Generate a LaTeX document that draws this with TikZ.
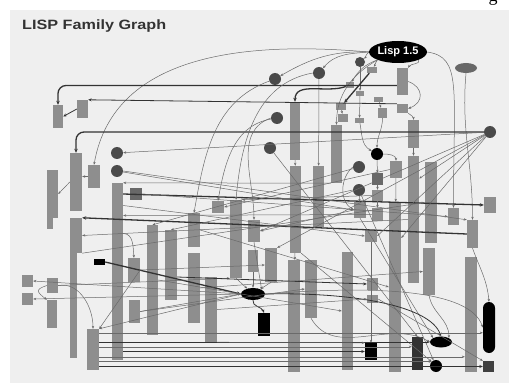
\documentclass[tikz,border=0pt]{standalone}
\usepackage{fontspec}
\setmainfont{Liberation Sans}
\newfontfamily\serifont{Liberation Serif}
\usetikzlibrary{arrows.meta,shapes.geometric,fit,calc}
\definecolor{bgc}{HTML}{EFEFEF}
\definecolor{boxg}{HTML}{8E8E8E}
\definecolor{boxd}{HTML}{686868}
\definecolor{circg}{HTML}{4A4A4A}
\definecolor{lthin}{HTML}{6A6A6A}
\definecolor{ldark}{HTML}{333333}
\definecolor{titlec}{HTML}{333333}
\newcommand\Rb[5]{\node[gb,fit={(#2,#3) (#4,#5)}] (#1) {};}
\newcommand\Rd[5]{\node[gd,fit={(#2,#3) (#4,#5)}] (#1) {};}
\newcommand\Cc[3]{\node[dc] (#1) at (#2,#3) {};}
\begin{document}
\begin{tikzpicture}[x=1pt,y=-1pt,
  gb/.style={fill=boxg,draw=none,inner sep=0pt},
  gd/.style={fill=boxd,draw=none,inner sep=0pt},
  dc/.style={circle,fill=circg,draw=none,inner sep=0pt,minimum size=12pt},
  bk/.style={fill=black,draw=none,inner sep=0pt},
  e/.style={draw=lthin,line width=0.5pt,-{Stealth[length=3pt,width=2.4pt]}},
  em/.style={draw=ldark,line width=0.8pt,-{Stealth[length=3.5pt,width=3pt]}},
  et/.style={draw=ldark,line width=1.3pt,-{Stealth[length=4pt,width=3.5pt]}}]
\useasboundingbox (0,0) rectangle (509,385);
\fill[white] (0,0) rectangle (509,385);
\fill[bgc] (10,10) rectangle (509,383);
\node[anchor=base,font=\serifont\fontsize{18}{18}\selectfont] (frag) at (493,2) {g};
\node[anchor=west,inner sep=0pt,text=titlec,font=\bfseries\fontsize{13.5}{14}\selectfont] (title) at (22,26) {\scalebox{1.2}[1]{LISP Family Graph}};
% ---- gray boxes
\Rb{r1}{53}{105}{63}{128}
\Rb{r2}{77}{100}{88}{118}
\Rb{r3}{70}{153}{82}{211}
\Rb{r4}{88}{165}{100}{188}
\Rb{r5}{47}{170}{58}{218}
\Rb{r5b}{47}{217}{53}{229}
\Rb{r6}{70}{218}{82}{253}
\Rb{r6b}{70}{252}{77}{358}
\Rb{r7}{112}{183}{123}{360}
\Rd{r8}{130}{188}{142}{200}
\Rb{r9}{147}{225}{158}{335}
\Rb{r10}{165}{230}{177}{300}
\Rb{r11}{188}{213}{200}{247}
\Rb{r11b}{188}{253}{200}{323}
\Rb{r12}{212}{201}{224}{213}
\Rb{r13}{230}{200}{242}{278}
\Rb{r14}{248}{220}{260}{242}
\Rb{r16}{248}{250}{258}{272}
\Rb{r15}{265}{248}{277}{282}
\Rb{r17}{290}{102}{300}{160}
\Rb{r17b}{290}{166}{301}{253}
\Rb{r17c}{288}{260}{300}{372}
\Rb{r18}{313}{166}{324}{227}
\Rb{r18b}{305}{260}{317}{318}
\Rb{r19}{331}{125}{342}{183}
\Rb{r20}{342}{252}{353}{370}
\Rb{r21}{354}{202}{366}{218}
\Rb{r22}{372}{190}{383}{201}
\Rb{r23}{372}{208}{383}{221}
\Rd{r24}{372}{173}{383}{185}
\Rb{r25}{365}{230}{377}{242}
\Rb{r26}{367}{278}{378}{290}
\Rb{r27}{367}{295}{378}{303}
\Rb{r28}{390}{161}{402}{178}
\Rb{r29}{389}{202}{401}{372}
\Rb{r30}{408}{120}{419}{148}
\Rb{r31}{408}{156}{419}{283}
\Rb{r32}{425}{162}{437}{243}
\Rb{r32b}{423}{248}{435}{295}
\Rb{r33}{448}{208}{459}{225}
\Rb{r34}{467}{220}{478}{248}
\Rb{r35}{484}{197}{496}{213}
\Rb{r36}{465}{257}{477}{372}
\Rb{r37}{397}{68}{408}{95}
\Rb{r38}{397}{104}{408}{113}
\Rb{r39}{378}{108}{387}{118}
\Rb{s1}{346}{82}{354}{88}
\Rb{s2}{367}{67}{377}{73}
\Rb{s3}{356}{91}{364}{96}
\Rb{s4}{374}{97}{383}{102}
\Rb{s5}{355}{118}{364}{123}
\Rb{s6}{336}{103}{346}{110}
\Rb{s7}{338}{114}{348}{122}
\Rb{r41}{22}{275}{33}{287}
\Rb{r42}{22}{293}{33}{305}
\Rb{r43}{47}{278}{58}{293}
\Rb{r44}{47}{300}{57}{328}
\Rb{r45}{87}{329}{99}{370}
\Rb{r46}{128}{258}{140}{282}
\Rb{r47}{129}{300}{140}{323}
\Rb{r48}{205}{277}{217}{342}
% ---- circles
\Cc{c1}{275}{79}
\Cc{c2}{319}{73}
\node[dc,minimum size=10pt] (c3) at (360,62) {};
\Cc{c4}{277}{118}
\Cc{c5}{490}{132}
\Cc{c6}{117}{153}
\Cc{c7}{117}{171}
\Cc{c8}{270}{148}
\node[dc,fill=black] (c9) at (377,154) {};
\Cc{c10}{359}{167}
\Cc{c11}{359}{190}
% ---- black shapes
\node[ellipse,fill=black,text=white,inner sep=0pt,minimum width=48pt,minimum height=22pt,font=\bfseries\fontsize{11}{11}\selectfont] (L) at (398,52) {Lisp 1.5};
\node[ellipse,fill=boxd,inner sep=0pt,minimum width=22pt,minimum height=10pt] (E2) at (466,68) {};
\node[bk,fit={(94,259) (105,265)}] (b1) {};
\node[ellipse,fill=black,inner sep=0pt,minimum width=24pt,minimum height=12pt] (b2) at (253,294) {};
\node[bk,fit={(258,313) (270,336)}] (b3) {};
\node[bk,fit={(365,343) (377,360)}] (b4) {};
\node[bk,fill=black!80,fit={(412,337) (423,370)}] (b5) {};
\node[ellipse,fill=black,inner sep=0pt,minimum width=22pt,minimum height=11pt] (b6) at (441,342) {};
\node[circle,fill=black,inner sep=0pt,minimum size=12pt] (b7) at (436,366) {};
\node[bk,rounded corners=6pt,fit={(483,302) (495,353)}] (b8) {};
\node[bk,fill=black!75,fit={(483,361) (494,372)}] (b9) {};
% ---- connectors: top
\draw[e] (L.west) to[out=175,in=80] (r4.north);
\draw[e] (L.west) to[out=178,in=30] (c1);
\draw[e] (L.west) to[out=185,in=50] (c2);
\draw[e] (L.west) to[out=200,in=40] (c3);
\draw[e] (L.south west) to[out=200,in=60] (s1);
\draw[e] (L.south west) to[out=230,in=60] (s2);
\draw[e] (L.south west) to[out=210,in=90] (r19.north);
\draw[e] (L.south east) to[out=-60,in=60] (r37.north east);
\draw[e] (L.east) .. controls +(35,5) and +(0,-120) .. (r33.north);
\draw[e] (E2.south) to[out=-95,in=90] (r34.north);
\draw[e] (r34.south) to[out=-70,in=95] (b8.north);
\draw[e] (c2) -- (r18);
\draw[e] (c3) -- (s3);
\draw[e] (s3) -- (s5);
\draw[e] (s5) to[out=-80,in=150] (c9);
\draw[et] (s2) -- (s6);
\draw[e] (s6) -- (s7);
\draw[e] (s4) -- (r39);
\draw[et,rounded corners=8pt] ([yshift=-4pt]r37.west) -| (r1.north);
\draw[em] (r38.north west) -- (r2.north east);
\draw[et] (s1) to[out=200,in=90] (r17.north);
\draw[e] (r37.east) to[out=-20,in=20,looseness=1.6] (r38.east);
\draw[e] (r38.south east) to[out=-40,in=90] (r30.north);
\draw[e] (r39.south) to[out=-90,in=90] (c9.north);
\draw[e] (r30) -- (r31);
\draw[e] (r17) -- (r17b);
\draw[e] (r17b) -- (r17c);
% ---- left and middle
\draw[em] (r2.west) -- (r1.east);
\draw[e] (r4.west) -- (r3.east |- r4.west);
\draw[e] (r3.west) -- (r5.east);
\draw[et,rounded corners=8pt] (c5.west) -| (r3.north);
\draw[e] (c5) -- (c6);
\draw[e] (r19.south west) -- (r7.north east);
\draw[et] (r8.west -| r7.east) -- (r35.west);
\draw[e] (r8.east) -- (r33.west);
\draw[et] (r34.west) -- (r6.north east);
\draw[e] (c7) -- (r21.west);
\draw[e] (c1) to[out=200,in=80] (r11.north);
\draw[e] (c2.west) to[out=190,in=85] (r13.north);
\draw[e] (c4) to[out=190,in=80] (r12.north);
\draw[e] (c4.west) to[out=200,in=90] (r14.north);
\draw[e] (c8) -- (b5.north);
\draw[e] (c11) -- (b7);
\coordinate (m0) at ($(r7.east)+(0,-38)$);
\draw[e] (m0) to[out=0,in=95] (r46.north);
\coordinate (m1) at ($(r7.east)+(0,-66)$);
\draw[e] (m1) -- (r25.west);
\coordinate (m2) at ($(r7.east)+(0,-56)$);
\draw[e] (r23.west) -- (m2);
\draw[e] (r31.west) -- (r6.east);
\draw[e] (c10) -- (r9.north);
\draw[e] (c11.west) -- (r10.north);
\draw[e] (r28.west) -- (r12.east);
\draw[e] (r22.west) -- (r13.north east);
\draw[e] (r21.west) -- (r14.east);
\coordinate (m3) at ($(r31.east)+(0,-41)$);
\draw[e] (c5) -- (m3);
\coordinate (m4) at ($(r29.east)+(0,-49)$);
\draw[e] (c5) -- (m4);
\draw[e] (c5) -- (r25.east);
\draw[e] (c5) -- (r14.east);
\draw[e] (c5) -- (r15.north east);
\draw[e] (c9) -- (r24);
\draw[e] (r24) -- (r22);
\draw[e] (r22) -- (r23);
\draw[e] (c9.east) to[out=0,in=90] (r28.north);
\draw[e] (r28) -- (r29);
\draw[e] (c10.west) to[out=220,in=150] (r21.west);
\draw[e] (c11) -- (r21);
\draw[e] (r25) -- (b4);
\draw[e] (r21.south) -- (b6.north west);
\draw[e] (r17b.south east) -- (b7.north west);
\draw[e] (r32b.south) to[out=-80,in=90] (b6.north east);
\draw[e] (r6.south east) -- (r32.west);
\draw[e] (c7.east) -- (r34.north west);
% ---- lower
\draw[et] (b1.east) -- (b2.west);
\draw[e] (r13.south) -- (b2);
\draw[e] (r16.south) -- (b2);
\draw[e] (r15.south) -- (b2);
\draw[e] (r14.south) -- (b2.north east);
\draw[e] (b2.west) -- (r41.east);
\draw[e] (b2.west) -- (r42.east);
\draw[e] (r43.east) -- (r13.south west);
\draw[e] (r43.west) .. controls +(-12,4) and +(-10,-8) .. (r44.north west);
\draw[e] (r43.east) to[out=10,in=90] (r45.north);
\draw[e] (b2.west) -- (r45.north east);
\draw[e] (r46.east) -- (r45.north east);
\draw[em] (b2.south) to[out=-100,in=110] (b3.north);
\draw[em] (b2.east) .. controls (350,292) and (430,305) .. (b6.north);
\draw[e] (b2.east) .. controls (380,285) and (470,290) .. (b8.west);
\coordinate (h1) at ($(r45.north east)+(0,4)$);
\draw[e] (h1) -- (h1 -| b8.west);
\draw[em] (r45.east |- b6.west) -- (b6.west);
\coordinate (h2) at ($(r45.north east)+(0,18)$);
\draw[e] (h2) -- (h2 -| b5.west);
\draw[em] (r7.east |- b4.west) -- (b4.west);
\coordinate (h3) at ($(r45.north east)+(0,28)$);
\draw[e] (h3) -- (h3 -| r36.west);
\draw[e] (r45.east |- b7.north west) -- (b7.north west);
\draw[em] (r45.east |- b9.west) -- (b9.west);
\coordinate (h4) at ($(r10.east)+(0,12)$);
\draw[em] (h4) -- (r26.west);
\draw[e] (r46.east) -- (r15.west);
\draw[e] (r47.east) -- (b2.west);
\draw[e] (r48.east) -- (r27.west);
\draw[e] (r11b.east) -- (r32b.west);
\draw[e] (r47.east) -- (r18b.west);
\draw[e] (r9.east) -- (r20.west);
\draw[e] (r48.south east) -- (b4.north west);
\draw[e] (r18b.south) to[out=-60,in=150] (b6.west);
\draw[e] (r27.east) -- (b9.north west);
\draw[e] (r11.east) -- (r29.west);
\end{tikzpicture}
\end{document}
